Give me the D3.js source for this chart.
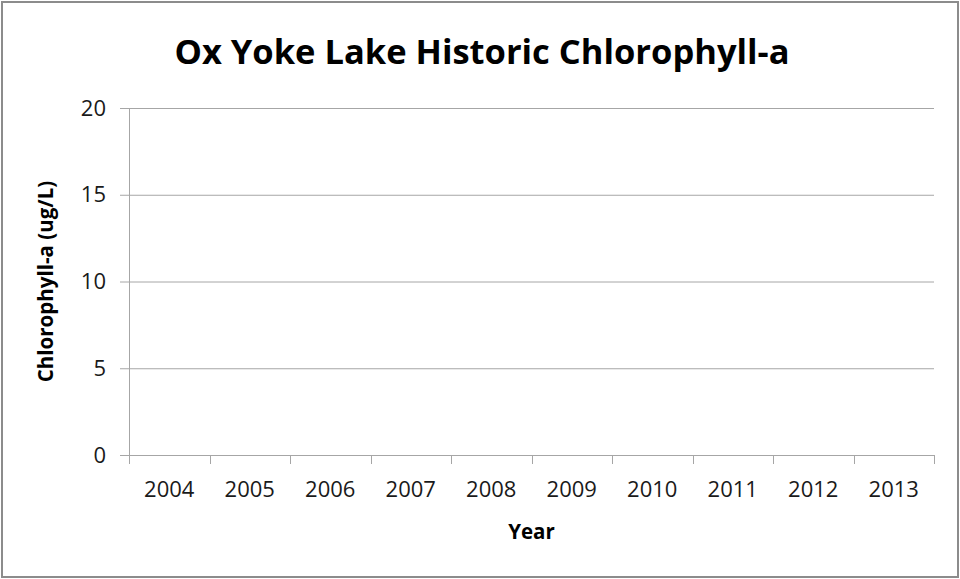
<!DOCTYPE html>
<meta charset="utf-8">
<style>
body { margin: 0; background: #fff; }
text { font-family: "Open Sans", sans-serif; fill: #1a1a1a; }
.title { font-weight: bold; font-size: 34.5px; fill: #000; }
.axis-title { font-weight: bold; font-size: 20.5px; fill: #000; }
.tick text { font-size: 22px; }
.grid line { stroke: #a6a6a6; stroke-width: 1px; }
</style>
<svg width="960" height="579"></svg>
<script src="https://cdn.jsdelivr.net/npm/d3@7"></script>
<script>
var width = 960,
    height = 579;

// chart data: years on the x axis, no measurements plotted
var years = ["2004", "2005", "2006", "2007", "2008", "2009", "2010", "2011", "2012", "2013"];
var chlorophyll = [];
var yTicks = [0, 5, 10, 15, 20];

var margin = {top: 108, right: 26, bottom: 124, left: 129};
var w = width - margin.left - margin.right,
    h = height - margin.top - margin.bottom;

var svg = d3.select("svg");

// outer frame
svg.append("rect")
    .attr("x", 2).attr("y", 2)
    .attr("width", width - 4).attr("height", height - 4)
    .attr("fill", "#fff")
    .attr("stroke", "#8c8c8c")
    .attr("stroke-width", 2);

var g = svg.append("g")
    .attr("transform", "translate(" + margin.left + "," + margin.top + ")");

var x = d3.scaleBand().domain(years).range([0, w]);
var y = d3.scaleLinear().domain([0, 20]).range([h, 0]);

// horizontal gridlines
g.append("g")
    .attr("class", "grid")
    .selectAll("line")
    .data(yTicks.filter(function(d) { return d > 0; }))
    .enter().append("line")
    .attr("x1", 0).attr("x2", w)
    .attr("y1", function(d) { return y(d) + 0.5; })
    .attr("y2", function(d) { return y(d) + 0.5; });

var yAxis = g.append("g")
    .call(d3.axisLeft(y).tickValues(yTicks).tickSize(9).tickPadding(14));
yAxis.select(".domain").attr("stroke", "#a6a6a6").attr("d", "M0.5," + h + "V0");
yAxis.selectAll(".tick line").attr("stroke", "#a6a6a6");

var xAxis = g.append("g")
    .attr("transform", "translate(0," + h + ")")
    .call(d3.axisBottom(x).tickSize(0).tickPadding(26));
xAxis.select(".domain").attr("stroke", "#a6a6a6").attr("d", "M0,0.5H" + w);

// Excel style ticks on the band edges
xAxis.selectAll(".edge")
    .data(years.concat(["end"]))
    .enter().append("line")
    .attr("class", "edge")
    .attr("stroke", "#a6a6a6")
    .attr("x1", function(d, i) { return Math.round(i * x.step()) + 0.5; })
    .attr("x2", function(d, i) { return Math.round(i * x.step()) + 0.5; })
    .attr("y1", 0).attr("y2", 9);

// data points (none recorded)
g.selectAll(".dot")
    .data(chlorophyll)
    .enter().append("circle")
    .attr("class", "dot")
    .attr("cx", function(d) { return x(d.year) + x.bandwidth() / 2; })
    .attr("cy", function(d) { return y(d.value); })
    .attr("r", 4);

svg.append("text")
    .attr("class", "title")
    .attr("x", 482).attr("y", 64)
    .attr("text-anchor", "middle")
    .text("Ox Yoke Lake Historic Chlorophyll-a");

svg.append("text")
    .attr("class", "axis-title")
    .attr("x", margin.left + w / 2).attr("y", 539)
    .attr("text-anchor", "middle")
    .text("Year");

svg.append("text")
    .attr("class", "axis-title")
    .attr("transform", "translate(53," + (margin.top + h / 2) + ") rotate(-90)")
    .attr("text-anchor", "middle")
    .text("Chlorophyll-a  (ug/L)");
</script>
